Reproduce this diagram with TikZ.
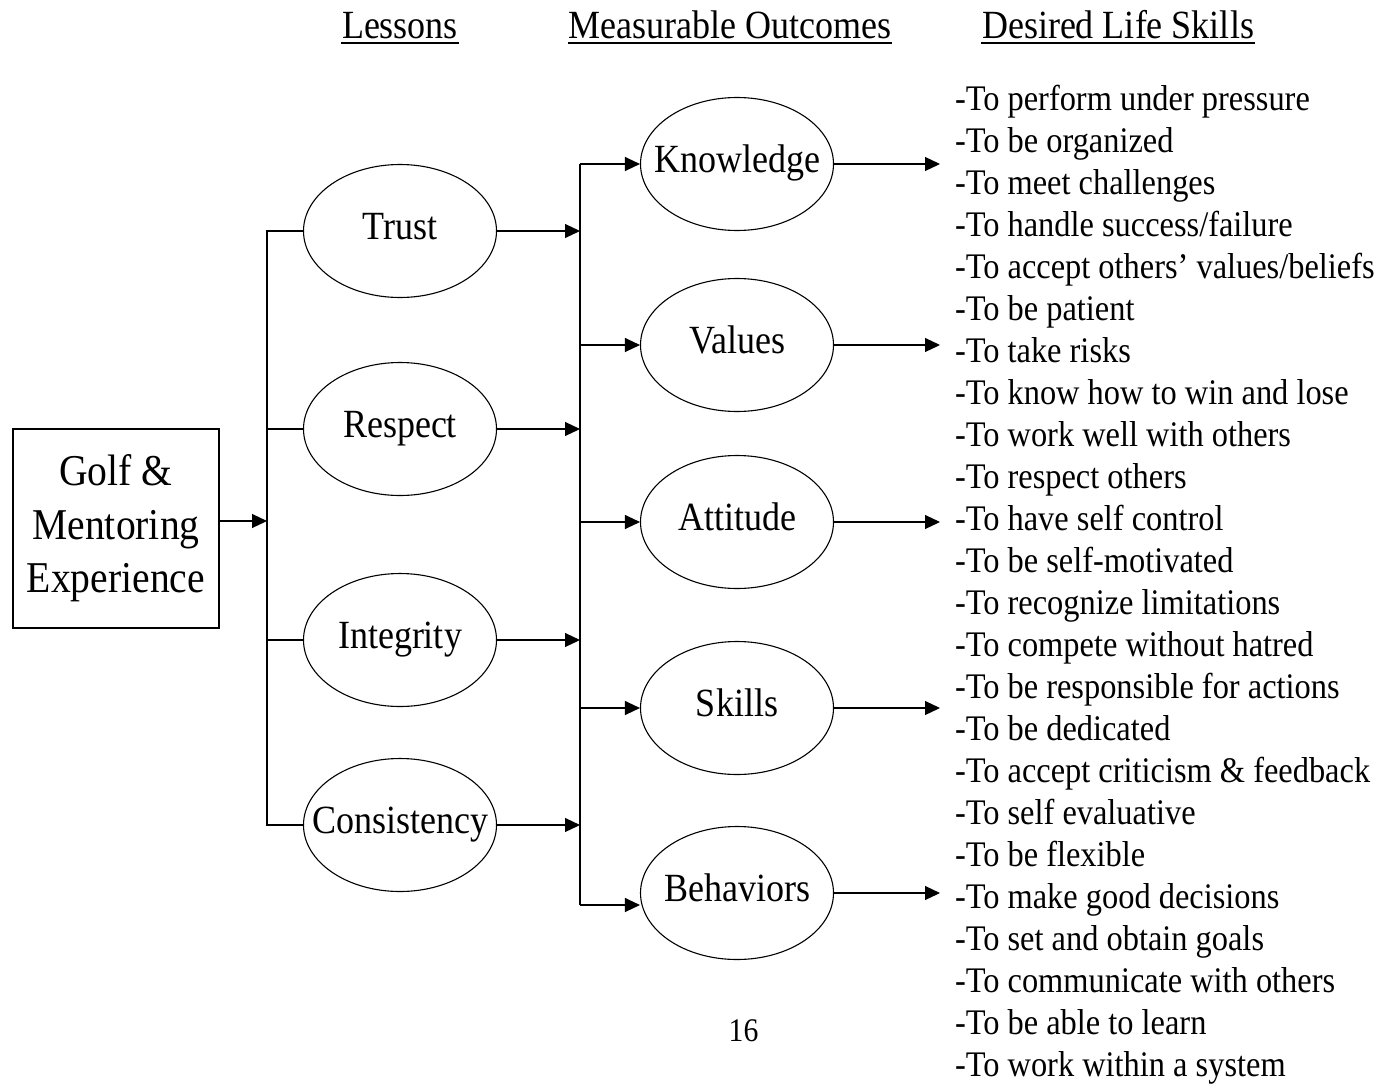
\documentclass[tikz,border=0pt]{standalone}
\usepackage{fontspec}
\setmainfont{Liberation Serif}[FakeStretch=0.9]
\usepackage{tikz}
\usetikzlibrary{
  arrows.meta,
  positioning,
  shapes.geometric
}

\begin{document}
\begin{tikzpicture}[
  x=1pt, y=-1pt,
  line width=1.1pt,
  head/.style={font=\fontsize{40pt}{48pt}\selectfont, inner sep=0pt, anchor=base},
  uline/.style={line width=2.4pt},
  golfbox/.style={draw, minimum width=206pt, minimum height=199pt, inner sep=0pt,
    align=center, font=\fontsize{44pt}{53.5pt}\selectfont},
  oval/.style={draw, ellipse, minimum width=193pt, minimum height=133pt,
    inner xsep=-60pt, inner ysep=0pt, text height=26pt, text depth=10pt,
    font=\fontsize{40pt}{48pt}\selectfont},
  skill/.style={font=\fontsize{36pt}{42pt}\selectfont, inner sep=0pt, outer sep=0pt,
    text height=30pt, text depth=12pt, anchor=north west},
  arrow/.style={-{Triangle[length=15pt, width=14pt]}}
]
  \useasboundingbox (0,0) rectangle (1383,1084);

  % column headings
  \node[head] (hl) at (400,38) {Lessons};
  \node[head] (ho) at (730,38) {Measurable Outcomes};
  \node[head] (hs) at (1118,38) {Desired Life Skills};
  \draw[uline] ([yshift=-5pt]hl.base west) -- ([yshift=-5pt]hl.base east);
  \draw[uline] ([yshift=-5pt]ho.base west) -- ([yshift=-5pt]ho.base east);
  \draw[uline] ([yshift=-5pt]hs.base west) -- ([yshift=-5pt]hs.base east);

  \node[golfbox] (golf) at (116,528.5) {Golf \&\\Mentoring\\Experience};

  \node[oval] (trust) at (400,231) {Trust};
  \node[oval] (respect) at (400,429) {Respect};
  \node[oval] (integrity) at (400,640) {Integrity};
  \node[oval] (consistency) at (400,825) {Consistency};

  \node[oval] (knowledge) at (737,164) {Knowledge};
  \node[oval] (values) at (737,345) {Values};
  \node[oval] (attitude) at (737,522) {Attitude};
  \node[oval] (skills) at (737,708) {Skills};
  \node[oval] (behaviors) at (737,893) {Behaviors};

  \node[skill] (s1) at (955,80) {-To perform under pressure};
  \node[skill, below right=0pt and 0pt of s1.south west] (s2) {-To be organized};
  \node[skill, below right=0pt and 0pt of s2.south west] (s3) {-To meet challenges};
  \node[skill, below right=0pt and 0pt of s3.south west] (s4) {-To handle success/failure};
  \node[skill, below right=0pt and 0pt of s4.south west] (s5) {-To accept others’ values/beliefs};
  \node[skill, below right=0pt and 0pt of s5.south west] (s6) {-To be patient};
  \node[skill, below right=0pt and 0pt of s6.south west] (s7) {-To take risks};
  \node[skill, below right=0pt and 0pt of s7.south west] (s8) {-To know how to win and lose};
  \node[skill, below right=0pt and 0pt of s8.south west] (s9) {-To work well with others};
  \node[skill, below right=0pt and 0pt of s9.south west] (s10) {-To respect others};
  \node[skill, below right=0pt and 0pt of s10.south west] (s11) {-To have self control};
  \node[skill, below right=0pt and 0pt of s11.south west] (s12) {-To be self-motivated};
  \node[skill, below right=0pt and 0pt of s12.south west] (s13) {-To recognize limitations};
  \node[skill, below right=0pt and 0pt of s13.south west] (s14) {-To compete without hatred};
  \node[skill, below right=0pt and 0pt of s14.south west] (s15) {-To be responsible for actions};
  \node[skill, below right=0pt and 0pt of s15.south west] (s16) {-To be dedicated};
  \node[skill, below right=0pt and 0pt of s16.south west] (s17) {-To accept criticism \& feedback};
  \node[skill, below right=0pt and 0pt of s17.south west] (s18) {-To self evaluative};
  \node[skill, below right=0pt and 0pt of s18.south west] (s19) {-To be flexible};
  \node[skill, below right=0pt and 0pt of s19.south west] (s20) {-To make good decisions};
  \node[skill, below right=0pt and 0pt of s20.south west] (s21) {-To set and obtain goals};
  \node[skill, below right=0pt and 0pt of s21.south west] (s22) {-To communicate with others};
  \node[skill, below right=0pt and 0pt of s22.south west] (s23) {-To be able to learn};
  \node[skill, below right=0pt and 0pt of s23.south west] (s24) {-To work within a system};

  \node[font=\fontsize{33pt}{40pt}\selectfont, inner sep=0pt, anchor=base] (page) at (743.5,1041) {16};

  % buses
  \coordinate (bus1) at (267,521);
  \coordinate (bot2) at (580,905);
  \coordinate (skillx) at (940,0);

  \draw[arrow] (golf.east |- bus1) -- (bus1);
  \draw (trust.west) -| (bus1) |- (consistency.west);
  \draw (respect.west) -- (respect.west -| bus1);
  \draw (integrity.west) -- (integrity.west -| bus1);

  \draw[arrow] (trust.east) -- (trust.east -| bot2);
  \draw[arrow] (respect.east) -- (respect.east -| bot2);
  \draw[arrow] (integrity.east) -- (integrity.east -| bot2);
  \draw[arrow] (consistency.east) -- (consistency.east -| bot2);

  \draw (knowledge.west -| bot2) -- (bot2);
  \draw[arrow] (knowledge.west -| bot2) -- (knowledge.west);
  \draw[arrow] (values.west -| bot2) -- (values.west);
  \draw[arrow] (attitude.west -| bot2) -- (attitude.west);
  \draw[arrow] (skills.west -| bot2) -- (skills.west);
  \draw[arrow] (bot2) -- (bot2 -| behaviors.west);

  \draw[arrow] (knowledge.east) -- (knowledge.east -| skillx);
  \draw[arrow] (values.east) -- (values.east -| skillx);
  \draw[arrow] (attitude.east) -- (attitude.east -| skillx);
  \draw[arrow] (skills.east) -- (skills.east -| skillx);
  \draw[arrow] (behaviors.east) -- (behaviors.east -| skillx);

\end{tikzpicture}
\end{document}
